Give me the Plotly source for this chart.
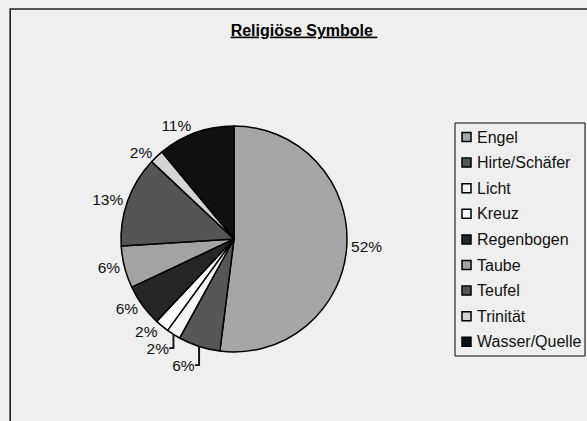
import plotly.graph_objects as go

labels = ["Engel", "Hirte/Schäfer", "Licht", "Kreuz", "Regenbogen", "Taube", "Teufel", "Trinität", "Wasser/Quelle"]
values = [52, 6, 2, 2, 6, 6, 13, 2, 11]
colors = ["#a6a6a6", "#575757", "#f5f5f5", "#ffffff", "#262626", "#a3a3a3", "#555555", "#d4d4d4", "#101010"]

W, H = 587, 421
cx, cy, r = 234, 239, 113
FONT = "Liberation Sans, Arial, sans-serif"


def px(x):
    return x / W


def py(y):
    return 1 - y / H


fig = go.Figure(go.Pie(
    labels=labels, values=values, sort=False, direction="clockwise", rotation=0,
    marker=dict(colors=colors, line=dict(color="#000000", width=1.5)),
    texttemplate="%{percent:.0%}", textposition="outside",
    textfont=dict(family=FONT, size=15.5, color="#111111"),
    domain=dict(x=[px(cx - r), px(cx + r)], y=[py(cy + r), py(cy - r)]),
    showlegend=False, automargin=False, hoverinfo="label+percent",
))

shapes = [dict(type="rect", xref="paper", yref="paper",
               x0=px(10.2), x1=1.3, y0=-0.3, y1=py(9),
               line=dict(color="#222222", width=1.6), layer="below")]
annotations = []

# legend box
lx0, ly0, lx1, ly1 = 455, 123, 585, 356
shapes.append(dict(type="rect", xref="paper", yref="paper",
                   x0=px(lx0), x1=px(lx1), y0=py(ly1), y1=py(ly0),
                   line=dict(color="#000000", width=1), fillcolor="#efefef"))
row0, step = 137, 25.6
for i, (lab, col) in enumerate(zip(labels, colors)):
    yc = row0 + i * step
    shapes.append(dict(type="rect", xref="paper", yref="paper",
                       x0=px(462), x1=px(471), y0=py(yc + 4.5), y1=py(yc - 4.5),
                       line=dict(color="#000000", width=1.5), fillcolor=col))
    annotations.append(dict(text=lab, x=px(474.5), y=py(yc), xref="paper", yref="paper",
                            xanchor="left", yanchor="middle", showarrow=False,
                            font=dict(family=FONT, size=16, color="#111111")))

fig.update_layout(
    width=W, height=H, margin=dict(l=0, r=0, t=0, b=0),
    paper_bgcolor="#efefef", plot_bgcolor="#efefef",
    font=dict(family=FONT, size=15, color="#111111"),
    title=dict(text="<b><u>Religiöse Symbole\u00a0</u></b>", x=px(304), xanchor="center",
               y=py(30), yanchor="middle", font=dict(family=FONT, size=16, color="#000000")),
    shapes=shapes, annotations=annotations,
)

fig.write_html("out.html", config={"displayModeBar": False},
               post_script="document.body.style.margin='0';document.body.style.overflow='hidden';")
